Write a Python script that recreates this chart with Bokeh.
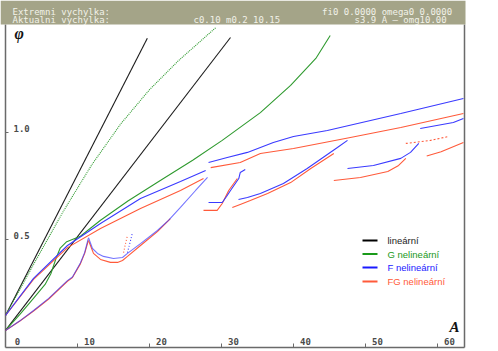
from bokeh.plotting import figure
from bokeh.models import Range1d
from bokeh.embed import file_html
from bokeh.resources import INLINE
from bokeh.core.properties import value

# ---------------- data (A = excitation amplitude, phi = response amplitude) ----------------
lin1_A = [0.0, 19.7]
lin1_phi = [0.145, 1.44]
lin2_A = [0.0, 31.25]
lin2_phi = [0.075, 1.444]

g1_A = [0, 4, 8, 12, 16, 20, 24, 29.2]
g1_phi = [0.145, 0.39, 0.63, 0.85, 1.04, 1.20, 1.335, 1.49]

g2_A = [0, 2, 4, 5.5, 6.3, 7.0, 7.6, 8.5, 10.4, 13.2, 17.0, 21.5, 26.0, 30.1, 35.4, 39.6, 43.1, 45.1]
g2_phi = [0.075, 0.15, 0.23, 0.29, 0.34, 0.41, 0.46, 0.49, 0.515, 0.59, 0.68, 0.776, 0.87, 0.963,
          1.093, 1.22, 1.346, 1.453]

# F nonlinear (blue) branches
fa1_A = [0, 3.89, 8.61, 13.19, 18.75, 24.3, 27.8]
fa1_phi = [0.145, 0.318, 0.472, 0.575, 0.692, 0.771, 0.822]
fa2_A = [28.2, 30.8, 33.6, 37.2, 40.0, 44.7, 54.9, 63.6]
fa2_phi = [0.86, 0.883, 0.907, 0.953, 0.981, 1.009, 1.089, 1.159]
fb1_A = [0, 2, 3.9, 6, 8.6, 9.3, 10.4, 11.0, 11.5]
fb1_phi = [0.075, 0.12, 0.168, 0.225, 0.308, 0.325, 0.39, 0.44, 0.505]
fb2_A = [11.53, 12.08, 12.78, 13.61, 15.0, 16.25, 16.94, 18.75, 21.1, 22.64, 24.3, 26.4, 28.06]
fb2_phi = [0.509, 0.458, 0.435, 0.421, 0.411, 0.416, 0.435, 0.481, 0.542, 0.589, 0.650, 0.729, 0.790]
fs_A = [16.94, 17.36, 17.64]
fs_phi = [0.439, 0.495, 0.533]
fc_A = [28.2, 30.1, 30.7, 31.25, 32.4, 32.6, 33.3]
fc_phi = [0.673, 0.673, 0.701, 0.729, 0.785, 0.813, 0.827]
fd_A = [32.36, 33.6, 35.4, 38.6, 41.9, 46.1, 47.5]
fd_phi = [0.687, 0.696, 0.715, 0.762, 0.832, 0.930, 0.963]
fe_A = [47.5, 51.1, 54.9, 56.25, 57.4]
fe_phi = [0.832, 0.846, 0.879, 0.907, 0.949]
ff_A = [57.6, 62.2, 63.6]
ff_phi = [1.019, 1.047, 1.065]

# FG nonlinear (red) branches
ra1_A = [0, 3.89, 8.61, 13.19, 18.75, 24.3, 27.5]
ra1_phi = [0.145, 0.314, 0.462, 0.551, 0.645, 0.729, 0.785]
ra2_A = [28.5, 32.6, 35.4, 40.0, 47.9, 54.9, 63.6]
ra2_phi = [0.836, 0.86, 0.902, 0.925, 0.977, 1.023, 1.089]
rb1_A = [0, 2, 3.9, 6, 8.6, 9.3, 10.4, 11.0, 11.5]
rb1_phi = [0.075, 0.119, 0.166, 0.222, 0.305, 0.322, 0.386, 0.435, 0.495]
rb2_A = [11.53, 12.22, 13.19, 14.58, 15.56, 16.25, 16.94, 18.75, 21.1, 22.9]
rb2_phi = [0.495, 0.435, 0.407, 0.393, 0.393, 0.402, 0.421, 0.472, 0.537, 0.598]
rs_A = [16.4, 16.67, 16.94]
rs_phi = [0.439, 0.481, 0.519]
rc_A = [27.5, 29.4, 30.1, 31.0, 32.2]
rc_phi = [0.636, 0.636, 0.668, 0.729, 0.785]
rd_A = [31.5, 32.6, 34.0, 36.4, 39.6, 42.4, 45.6]
rd_phi = [0.650, 0.664, 0.682, 0.715, 0.766, 0.832, 0.902]
re_A = [45.6, 49.3, 53.1, 54.6, 55.6]
re_phi = [0.776, 0.790, 0.818, 0.846, 0.879]
rf_A = [55.6, 59.0, 61.5]
rf_phi = [0.949, 0.963, 0.981]
rg_A = [58.5, 60.5, 63.6]
rg_phi = [0.89, 0.91, 0.953]

x_ticks = [0, 10, 20, 30, 40, 50, 60]
y_ticks = [0.5, 1.0]
y_tick_labels = ["0.5", "1.0"]

legend_labels = ["lineární", "G nelineární", "F nelineární", "FG nelineární"]
header_left = ["Extremni vychylka:", "Aktualni vychylka:"]
header_mid = "c0.10 m0.2 10.15"
header_right = ["fi0 0.0000 omega0  0.0000", "s3.9 A —   omg10.00"]

# ---------------- layout helpers (pixel -> data) ----------------
W, H = 498, 351
X0, SX = 5.0, 7.2
Y0, SY = 346.0, 214.0


def ax(px):
    return (px - X0) / SX


def ay(py):
    return (Y0 - py) / SY


C_BLACK = "#1c1c1c"
C_GREEN = "#2f9a2f"
C_BLUE = "#3a3aff"
C_RED = "#ff5a3a"
C_AXIS = "#6a6a6a"

p = figure(width=W, height=H, x_range=Range1d(ax(0), ax(W)), y_range=Range1d(ay(H), ay(0)),
           output_backend="svg", toolbar_location=None, x_axis_type=None, y_axis_type=None,
           min_border=0)
p.grid.visible = False
p.outline_line_color = None
p.background_fill_color = "white"
p.border_fill_color = "white"

# frame lines
p.line([ax(X0), ax(X0)], [ay(347), ay(24)], color=C_AXIS, line_width=1.5)
p.line([ax(X0), ax(464)], [ay(347), ay(347)], color=C_AXIS, line_width=1.5)
p.line([ax(464), ax(464)], [ay(347), ay(24)], color=C_AXIS, line_width=1.5)

# ticks
p.segment(x0=x_ticks[1:], x1=x_ticks[1:], y0=[ay(347)] * 6, y1=[ay(343)] * 6, color=C_AXIS, line_width=1)
p.segment(x0=[ax(X0)] * 2, x1=[ax(8)] * 2, y0=y_ticks, y1=y_ticks, color=C_AXIS, line_width=1)

p.text(x=[t + 12 / SX for t in x_ticks], y=[ay(340.5)] * len(x_ticks), text=[str(t) for t in x_ticks],
       text_font=value("DejaVu Sans Mono"), text_font_size="9px", text_font_style="bold",
       text_color="#4a4a4a", text_align="center", text_baseline="middle")
p.text(x=[ax(13)] * 2, y=[t + 4.5 / SY for t in y_ticks], text=y_tick_labels,
       text_font=value("DejaVu Sans Mono"), text_font_size="9px", text_font_style="bold",
       text_color="#4a4a4a", text_align="left", text_baseline="middle")

# axis symbols
p.text(x=[ax(14)], y=[ay(33)], text=["φ"], text_font=value("Liberation Serif"), text_font_size="16px",
       text_font_style="bold italic", text_color="#111111", text_align="left", text_baseline="middle")
p.text(x=[ax(449)], y=[ay(326)], text=["A"], text_font=value("Liberation Serif"), text_font_size="15px",
       text_font_style="bold italic", text_color="#111111", text_align="left", text_baseline="middle")


# curves
def curve(xs, ys, color, dash="solid", alpha=1.0, width=1.1):
    p.line(xs, ys, color=color, line_width=width, line_dash=dash, line_alpha=alpha)


curve(lin1_A, lin1_phi, C_BLACK)
curve(lin2_A, lin2_phi, C_BLACK)
curve(g1_A, g1_phi, C_GREEN, dash="1 1")
curve(g2_A, g2_phi, C_GREEN)

for xs, ys in [(ra1_A, ra1_phi), (ra2_A, ra2_phi), (rb1_A, rb1_phi), (rb2_A, rb2_phi), (rc_A, rc_phi),
               (rd_A, rd_phi), (re_A, re_phi), (rg_A, rg_phi)]:
    curve(xs, ys, C_RED)
curve(rs_A, rs_phi, C_RED, dash="1 2")
curve(rf_A, rf_phi, C_RED, dash="2 2")

for xs, ys in [(fa1_A, fa1_phi), (fa2_A, fa2_phi), (fc_A, fc_phi), (fd_A, fd_phi), (fe_A, fe_phi),
               (ff_A, ff_phi)]:
    curve(xs, ys, C_BLUE)
for xs, ys in [(fb1_A, fb1_phi), (fb2_A, fb2_phi)]:
    curve(xs, ys, C_BLUE, alpha=0.7)
curve(fs_A, fs_phi, C_BLUE, dash="1 2")

# legend (hand drawn, coloured labels)
leg_colors = [C_BLACK, "#229922", "#2222ff", "#ff5a3a"]
leg_line_colors = ["#000000", "#1a9a1a", "#1a1aff", "#ff5a3a"]
leg_y = [ay(240), ay(253.5), ay(267), ay(281)]
p.segment(x0=[ax(362)] * 4, x1=[ax(377)] * 4, y0=leg_y, y1=leg_y, color=leg_line_colors, line_width=2)
p.text(x=[ax(387)] * 4, y=leg_y, text=legend_labels, text_color=leg_colors,
       text_font=value("Liberation Sans"), text_font_size="9.5px", text_align="left", text_baseline="middle")

# header bar
HDR_FONT = value("DejaVu Sans Mono")
p.quad(left=[ax(0)], right=[ax(465)], top=[ay(0)], bottom=[ay(24)], fill_color="#a4a488", line_color=None)
p.text(x=[ax(12)] * 2, y=[ay(11.5), ay(19)], text=header_left, text_font=HDR_FONT,
       text_font_size="9px", text_color="#f2f2e8", text_align="left", text_baseline="alphabetic")
p.text(x=[ax(193)], y=[ay(19)], text=[header_mid], text_font=HDR_FONT,
       text_font_size="9px", text_color="#f2f2e8", text_align="left", text_baseline="alphabetic")
p.text(x=[ax(457)] * 2, y=[ay(11.5), ay(19)], text=header_right, text_font=HDR_FONT,
       text_font_size="9px", text_color="#f2f2e8", text_align="right", text_baseline="alphabetic")

open("out.html", "w").write(file_html(p, INLINE))
